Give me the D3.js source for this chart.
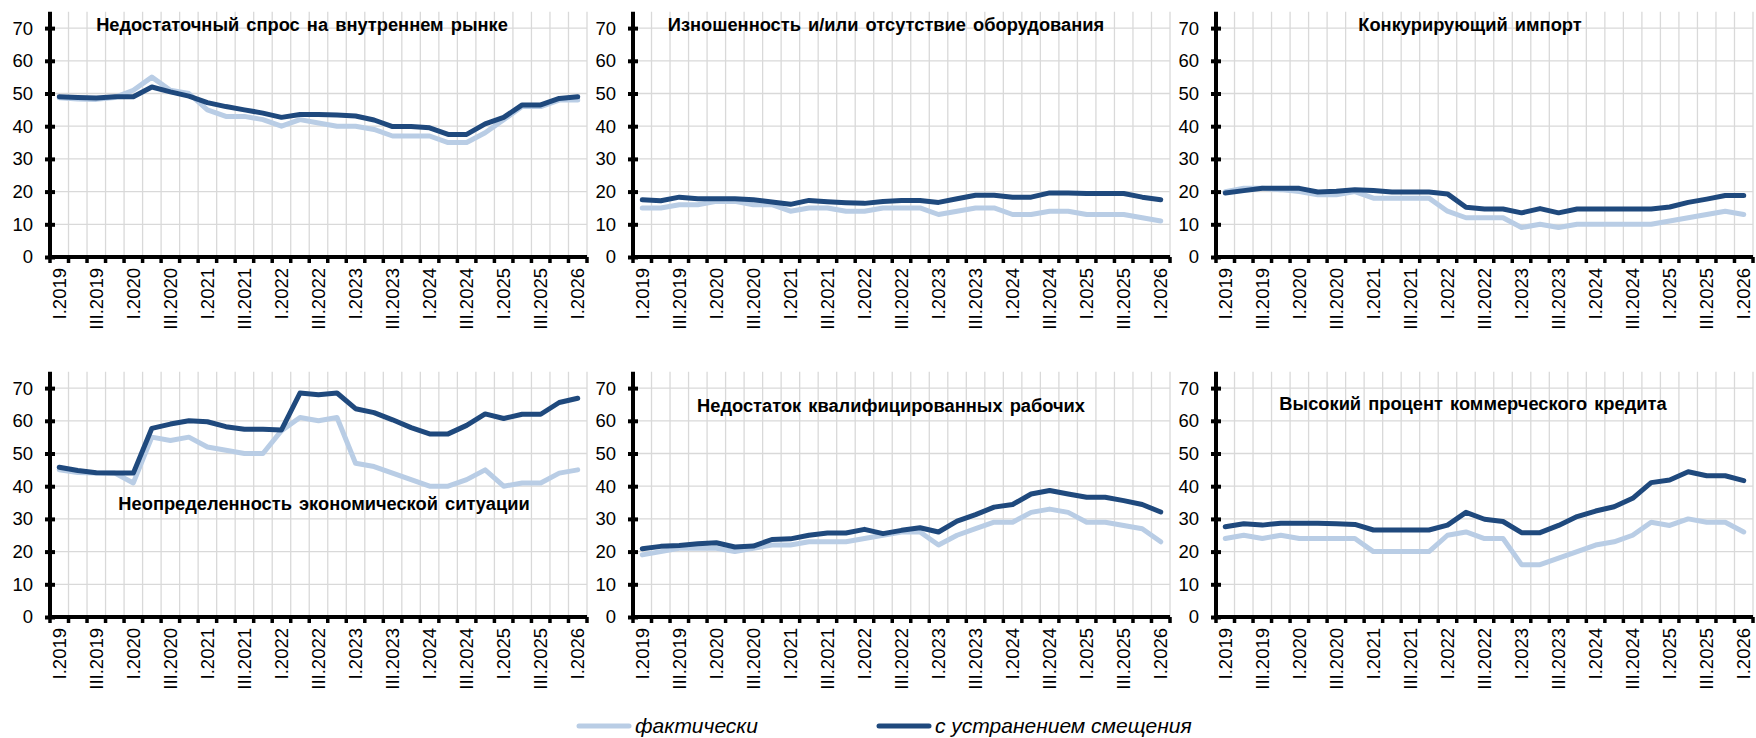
<!DOCTYPE html>
<html>
<head>
<meta charset="utf-8">
<script src="https://cdn.jsdelivr.net/npm/d3@7"></script>
<style>
  body { margin: 0; background: #fff; }
  svg { display: block; font-family: "Liberation Sans", Arial, sans-serif; }
  .grid line { stroke: #d9d9d9; stroke-width: 1.3; }
  .title { font-weight: bold; font-size: 18.3px; fill: #000; }
  .tick-label { font-size: 18.5px; fill: #000; }
  .legend-label { font-size: 21px; font-style: italic; fill: #000; }
</style>
</head>
<body>
<svg id="chart"></svg>
<script>
// quarters I.2019 ... I.2026
var quarters = [
  "I.2019","II.2019","III.2019","IV.2019",
  "I.2020","II.2020","III.2020","IV.2020",
  "I.2021","II.2021","III.2021","IV.2021",
  "I.2022","II.2022","III.2022","IV.2022",
  "I.2023","II.2023","III.2023","IV.2023",
  "I.2024","II.2024","III.2024","IV.2024",
  "I.2025","II.2025","III.2025","IV.2025",
  "I.2026"
];
var yTicks = [0, 10, 20, 30, 40, 50, 60, 70];

var titles = [
  "Недостаточный спрос на внутреннем рынке",
  "Изношенность и/или отсутствие оборудования",
  "Конкурирующий импорт",
  "Неопределенность экономической ситуации",
  "Недостаток квалифицированных рабочих",
  "Высокий процент коммерческого кредита"
];
var seriesNames = ["фактически", "с устранением смещения"];

var demandFact = [48.7,48.3,48.2,48.8,51,55,51,50,45,43,43,42,40,42,41,40,40,39,37,37,37,35,35,38,42,46,46,48,48];
var demandAdj  = [49,48.8,48.6,49,49,52,50.5,49.2,47.2,46,45,44,42.7,43.6,43.6,43.4,43.1,41.9,39.9,39.9,39.5,37.5,37.5,40.7,42.7,46.5,46.5,48.5,49];

var equipFact = [15,15,16,16,17,17,16,16,14,15,15,14,14,15,15,15,13,14,15,15,13,13,14,14,13,13,13,12,11];
var equipAdj  = [17.5,17.2,18.3,17.8,17.8,17.8,17.5,16.8,16.1,17.3,16.9,16.6,16.4,17,17.3,17.3,16.7,17.8,18.9,18.9,18.3,18.3,19.6,19.6,19.4,19.4,19.4,18.3,17.5];

var importFact = [20,21,21,20.6,20,19,19,20,18,18,18,18,14,12,12,12,9,10,9,10,10,10,10,10,11,12,13,14,13];
var importAdj  = [19.6,20.3,21,21,21,19.9,20.1,20.6,20.3,19.9,19.9,19.9,19.3,15.2,14.7,14.7,13.5,14.8,13.5,14.7,14.7,14.7,14.7,14.7,15.3,16.7,17.7,18.8,18.8];

var uncertFact = [45,44.2,44,44,41,55,54,55,52,51,50,50,57,61,60,61,47,46,44,42,40,40,42,45,40,41,41,44,45];
var uncertAdj  = [45.8,44.8,44.1,44,44,57.7,59,60,59.7,58.2,57.4,57.4,57.2,68.5,68,68.5,63.7,62.5,60.3,57.9,56,56,58.6,62.1,60.7,62,62,65.6,66.9];

var laborFact = [19,20,21,21,21,20,21,22,22,23,23,23,24,25,26,26,22,25,27,29,29,32,33,32,29,29,28,27,23];
var laborAdj  = [20.9,21.6,21.9,22.4,22.7,21.4,21.7,23.7,23.9,25,25.7,25.7,26.8,25.5,26.5,27.3,26,29.3,31.3,33.6,34.4,37.6,38.7,37.6,36.6,36.6,35.6,34.4,32.1];

var creditFact = [24,25,24,25,24,24,24,24,20,20,20,20,25,26,24,24,16,16,18,20,22,23,25,29,28,30,29,29,26];
var creditAdj  = [27.6,28.5,28.1,28.7,28.7,28.7,28.5,28.3,26.6,26.6,26.6,26.6,28.1,32,29.9,29.2,25.8,25.8,28,30.7,32.4,33.7,36.3,41.1,41.9,44.4,43.2,43.2,41.7];

var panelData = [
  [demandFact, demandAdj],
  [equipFact, equipAdj],
  [importFact, importAdj],
  [uncertFact, uncertAdj],
  [laborFact, laborAdj],
  [creditFact, creditAdj]
];

var colors = ["#b9cde5", "#1f497d"];

// layout
var width = 1756, height = 738;
var colX = [50, 633, 1216];
var rowBase = [257, 617];
var plotW = 537;
var pxPerUnit = 3.27;
var titlePos = [[252, 31], [253, 31], [254, 31], [274, 510], [258, 412], [257, 410]];

var svg = d3.select("#chart")
  .attr("width", width)
  .attr("height", height);

var x = d3.scaleBand()
  .domain(quarters)
  .range([0, plotW])
  .padding(0);

var y = d3.scaleLinear()
  .domain([0, 75])
  .range([0, -75 * pxPerUnit]);

var line = d3.line()
  .x((d, i) => x(quarters[i]) + x.bandwidth() / 2)
  .y(d => y(d));

var boundaries = d3.range(quarters.length + 1).map(i => i * x.step());

panelData.forEach(function (pair, p) {
  var g = svg.append("g")
    .attr("transform", `translate(${colX[p % 3]}, ${rowBase[Math.floor(p / 3)]})`);

  // grid
  var grid = g.append("g").attr("class", "grid");
  grid.selectAll(".h")
    .data(yTicks.slice(1))
    .join("line")
    .attr("x1", 0).attr("x2", plotW)
    .attr("y1", d => y(d)).attr("y2", d => y(d));
  grid.selectAll(".v")
    .data(boundaries.slice(1))
    .join("line")
    .attr("x1", d => d).attr("x2", d => d)
    .attr("y1", y(0)).attr("y2", y(75));

  // title
  svg.append("text")
    .attr("class", "title")
    .attr("x", colX[p % 3] + titlePos[p][0])
    .attr("y", titlePos[p][1])
    .attr("text-anchor", "middle")
    .attr("word-spacing", "2px")
    .text(titles[p]);

  // series
  pair.forEach(function (values, s) {
    g.append("path")
      .datum(values)
      .attr("fill", "none")
      .attr("stroke", colors[s])
      .attr("stroke-width", 5)
      .attr("stroke-linejoin", "round")
      .attr("stroke-linecap", "round")
      .attr("d", line);
  });

  // y axis
  var yAxis = d3.axisLeft(y)
    .tickValues(yTicks)
    .tickSize(5)
    .tickPadding(12)
    .tickFormat(d3.format("d"));
  var ya = g.append("g").call(yAxis);
  ya.select(".domain").remove();
  ya.selectAll(".tick line")
    .attr("x1", -5).attr("x2", 5)
    .attr("stroke", "#000").attr("stroke-width", 4);
  ya.selectAll(".tick text")
    .attr("class", "tick-label")
    .attr("font-size", null).attr("font-family", null);
  g.append("line")
    .attr("x1", 0).attr("x2", 0)
    .attr("y1", y(0) + 2).attr("y2", y(75))
    .attr("stroke", "#000").attr("stroke-width", 4);

  // x axis
  g.append("line")
    .attr("x1", -2).attr("x2", plotW)
    .attr("y1", 0).attr("y2", 0)
    .attr("stroke", "#000").attr("stroke-width", 4);
  g.selectAll(".xtick")
    .data(boundaries)
    .join("line")
    .attr("x1", d => d).attr("x2", d => d)
    .attr("y1", 0).attr("y2", 6)
    .attr("stroke", "#000").attr("stroke-width", 3.5);

  var xAxis = d3.axisBottom(x)
    .tickSize(0)
    .tickFormat(q => (q.startsWith("I.") || q.startsWith("III.")) ? q : "");
  var xa = g.append("g").call(xAxis);
  xa.select(".domain").remove();
  xa.selectAll(".tick text")
    .attr("class", "tick-label")
    .attr("font-size", null).attr("font-family", null)
    .attr("text-anchor", "end")
    .attr("transform", "translate(0, 11) rotate(-90)")
    .attr("x", 0).attr("y", 0)
    .attr("dy", "0.35em");
});

// legend
var legendX = [577, 877];
var legend = svg.append("g").attr("transform", "translate(0, 726)");
seriesNames.forEach(function (name, s) {
  legend.append("line")
    .attr("x1", legendX[s] + 2).attr("x2", legendX[s] + 52)
    .attr("y1", 0).attr("y2", 0)
    .attr("stroke", colors[s])
    .attr("stroke-width", 5)
    .attr("stroke-linecap", "round");
  legend.append("text")
    .attr("class", "legend-label")
    .attr("x", legendX[s] + 58)
    .attr("y", 0)
    .attr("dy", "0.35em")
    .text(name);
});
</script>
</body>
</html>
